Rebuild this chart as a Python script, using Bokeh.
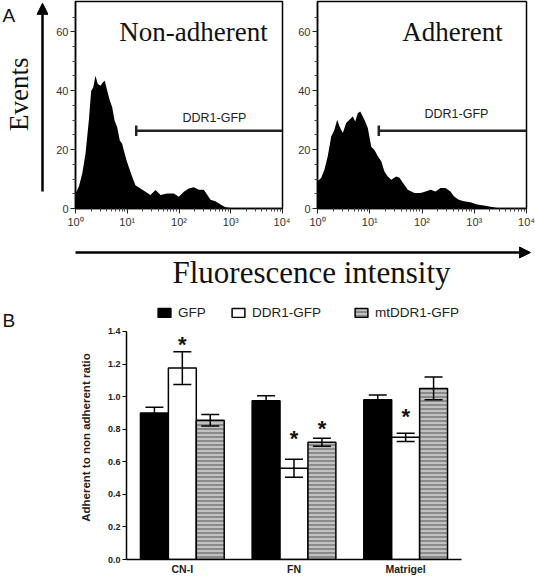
import math
from bokeh.plotting import figure
from bokeh.layouts import column, row
from bokeh.models import (ColumnDataSource, FixedTicker, FactorRange, Range1d, Arrow, NormalHead,
                          Whisker, TeeHead, Legend, LegendItem, NumeralTickFormatter, Label)
from bokeh.transform import dodge
from bokeh.core.properties import value
from bokeh.embed import file_html
from bokeh.resources import INLINE

SERIF = "Liberation Serif"
SANS = "Liberation Sans"

# ---------------- Panel A data (flow cytometry histograms) ----------------
nonadh_intensity = [1.0, 1.16, 1.35, 1.56, 1.81, 2.01, 2.20, 2.43, 2.70, 3.04, 3.37, 3.68, 4.10, 4.60,
                    5.12, 5.68, 6.40, 7.18, 7.98, 8.57, 9.68, 10.7, 12.5, 14.4, 18.0, 22.5, 28.1, 35.2,
                    44.0, 59.2, 79.4, 99.0, 124, 155, 193, 242, 301, 351, 406, 507, 634, 792, 989,
                    2000, 5000, 10000]
nonadh_events = [5.1, 7.4, 11.9, 18.6, 29.9, 40.0, 41.1, 45.1, 42.3, 41.7, 42.8, 43.4, 40.0, 36.7,
                 34.4, 29.9, 27.6, 23.1, 22.0, 19.8, 16.4, 14.1, 10.7, 7.9, 6.8, 5.7, 4.6, 6.3,
                 4.6, 5.1, 5.1, 4.0, 5.7, 6.8, 7.2, 6.4, 6.4, 4.7, 3.0, 2.5, 1.4, 0.4, 0.2,
                 0.2, 0.1, 0.2]
adh_intensity = [1.0, 1.18, 1.36, 1.57, 1.83, 2.11, 2.38, 2.64, 3.05, 3.54, 4.09, 4.74, 5.27, 5.90,
                 6.56, 7.36, 8.18, 9.18, 10.7, 12.3, 14.3, 16.6, 19.1, 22.1, 25.8, 32.1, 37.1, 43.0,
                 53.5, 71.8, 93.5, 117, 146, 181, 226, 282, 351, 406, 506, 631, 847, 1138, 1524,
                 2046, 2748, 3631, 10000]
adh_events = [9.2, 10.4, 13.2, 17.7, 24.4, 26.7, 30.1, 27.8, 25.6, 29.0, 30.1, 31.2, 29.5, 32.3,
              32.9, 31.2, 29.5, 27.3, 21.0, 19.9, 17.7, 16.0, 12.6, 10.9, 9.8, 10.9, 10.4, 8.7,
              6.4, 5.3, 5.3, 5.8, 6.4, 5.8, 7.0, 7.0, 5.8, 4.2, 3.0, 2.5, 2.1, 1.4, 1.0,
              0.6, 0.2, 0.1, 0.1]
gate_start = 14.9
gate_level = 26.4
hist_ticks = [1, 10, 100, 1000, 10000]
hist_tick_labels = ["10\u2070", "10\u00b9", "10\u00b2", "10\u00b3", "10\u2074"]
events_ticks = [0, 20, 40, 60]
events_minor = [5, 10, 15, 25, 30, 35, 45, 50, 55, 65]

# ---------------- Panel B data (bar chart) ----------------
substrates = ["CN-I", "FN", "Matrigel"]
series_names = ["GFP", "DDR1-GFP", "mtDDR1-GFP"]
gfp_mean = [0.90, 0.975, 0.98]
gfp_sem = [0.035, 0.03, 0.03]
ddr1_mean = [1.175, 0.56, 0.75]
ddr1_sem = [0.10, 0.055, 0.025]
mt_mean = [0.855, 0.72, 1.05]
mt_sem = [0.035, 0.025, 0.07]
ddr1_star_cat = ["CN-I", "FN", "Matrigel"]
ddr1_star_y = [1.33, 0.752, 0.89]
mt_star_cat = ["FN"]
mt_star_y = [0.816]
ratio_ticks = [0.0, 0.2, 0.4, 0.6, 0.8, 1.0, 1.2, 1.4]


def deco_fig(w, h):
    p = figure(width=w, height=h, x_range=Range1d(0, w), y_range=Range1d(0, h),
               x_axis_location=None, y_axis_location=None, output_backend="svg",
               toolbar_location=None, min_border=0, outline_line_color=None)
    p.grid.visible = False
    return p


def hist_fig(xs, ys, title, title_x, gate_label_x, gate_label_y, width, bl, br):
    p = figure(width=width, height=230, x_axis_type="log", x_range=Range1d(1, 10000),
               y_range=Range1d(0, 70.27), output_backend="svg", toolbar_location=None,
               min_border_left=bl, min_border_right=br, min_border_top=1, min_border_bottom=21)
    p.grid.visible = False
    p.outline_line_color = "black"
    p.outline_line_width = 1.5
    p.varea(x=xs, y1=[0] * len(xs), y2=ys, fill_color="black")
    # gate marker
    p.segment(x0=[gate_start], y0=[gate_level], x1=[10000], y1=[gate_level],
              line_color="#222222", line_width=2.5)
    p.segment(x0=[gate_start], y0=[gate_level - 1.8], x1=[gate_start], y1=[gate_level + 1.8],
              line_color="#222222", line_width=2.5)
    p.add_layout(Label(x=gate_label_x, y=gate_label_y, text="DDR1-GFP", text_align="center",
                       text_baseline="alphabetic", text_font=SANS, text_font_size="12.5px",
                       text_color="#222222"))
    p.add_layout(Label(x=title_x, y=60.0, text=title, text_align="center",
                       text_baseline="alphabetic", text_font=SERIF, text_font_size="27px",
                       text_color="#111111"))
    p.xaxis.ticker = FixedTicker(ticks=hist_ticks,
                                 minor_ticks=[m * 10 ** k for k in range(4) for m in range(2, 10)])
    p.xaxis.major_label_overrides = {t: lab for t, lab in zip(hist_ticks, hist_tick_labels)}
    p.yaxis.ticker = FixedTicker(ticks=events_ticks, minor_ticks=events_minor)
    for ax in (p.xaxis, p.yaxis):
        ax.axis_line_width = 1.5
        ax.axis_line_color = "black"
        ax.major_tick_out = 5
        ax.major_tick_in = 0
        ax.minor_tick_out = 3
        ax.minor_tick_in = 0
        ax.major_tick_line_color = "#222222"
        ax.minor_tick_line_color = "#444444"
        ax.major_label_text_font = SANS
        ax.major_label_text_font_size = "11px"
        ax.major_label_text_color = "#333333"
        ax.major_label_standoff = 2
    return p


# ---- top row (y 0..230) ----
decoA = deco_fig(48, 230)
decoA.add_layout(Label(x=2, y=215, text="A", text_font=SANS, text_font_size="19px",
                       text_baseline="alphabetic", text_color="#111111"))
decoA.add_layout(Label(x=18, y=127, text="Events", angle=math.pi / 2, text_align="center",
                       text_baseline="middle", text_font=SERIF, text_font_size="27px",
                       text_color="#111111"))
decoA.add_layout(Arrow(end=NormalHead(size=11, fill_color="black", line_color="black"),
                       x_start=42, y_start=19, x_end=42, y_end=228, line_width=2.5,
                       line_color="black"))

h1 = hist_fig(nonadh_intensity, nonadh_events, "Non-adherent", 191, 485, 30.85, 242, 27, 8)
h2 = hist_fig(adh_intensity, adh_events, "Adherent", 384, 457, 31.95, 245, 27, 9)

# ---- middle strip (y 230..300) ----
decoF = deco_fig(535, 70)
decoF.add_layout(Arrow(end=NormalHead(size=11, fill_color="black", line_color="black"),
                       x_start=75, y_start=48, x_end=530, y_end=48, line_width=2.5,
                       line_color="black"))
decoF.add_layout(Label(x=311, y=28, text="Fluorescence intensity", text_align="center",
                       text_baseline="alphabetic", text_font=SERIF, text_font_size="31px",
                       text_color="#111111"))

# ---- bottom row (y 300..577) ----
decoB = deco_fig(100, 277)
decoB.add_layout(Label(x=2, y=259, text="B", text_font=SANS, text_font_size="19px",
                       text_baseline="alphabetic", text_color="#111111"))
decoB.add_layout(Label(x=85, y=132, text="Adherent to non adherent ratio", angle=math.pi / 2,
                       text_align="center", text_baseline="middle", text_font=SANS,
                       text_font_style="bold", text_font_size="11.5px", text_color="#222222"))

pb = figure(width=435, height=277, x_range=FactorRange(*substrates, range_padding=0),
            y_range=Range1d(0, 1.5715), output_backend="svg", toolbar_location=None,
            min_border_left=26, min_border_right=74, min_border_top=3, min_border_bottom=18,
            outline_line_color=None)
pb.grid.visible = False

src = ColumnDataSource(dict(
    cat=substrates,
    gfp=gfp_mean, gfp_lo=[m - e for m, e in zip(gfp_mean, gfp_sem)],
    gfp_hi=[m + e for m, e in zip(gfp_mean, gfp_sem)],
    ddr1=ddr1_mean, ddr1_lo=[m - e for m, e in zip(ddr1_mean, ddr1_sem)],
    ddr1_hi=[m + e for m, e in zip(ddr1_mean, ddr1_sem)],
    mt=mt_mean, mt_lo=[m - e for m, e in zip(mt_mean, mt_sem)],
    mt_hi=[m + e for m, e in zip(mt_mean, mt_sem)],
))

offsets = [-0.25, 0.0, 0.25]
bar_w = 0.25
r_gfp = pb.vbar(x=dodge("cat", offsets[0], range=pb.x_range), top="gfp", width=bar_w, source=src,
                fill_color="black", line_color="black", line_width=1.5)
r_ddr1 = pb.vbar(x=dodge("cat", offsets[1], range=pb.x_range), top="ddr1", width=bar_w, source=src,
                 fill_color="white", line_color="black", line_width=1.5)
r_mt = pb.vbar(x=dodge("cat", offsets[2], range=pb.x_range), top="mt", width=bar_w, source=src,
               fill_color="#8a8a8a", line_color="black", line_width=1.5,
               hatch_pattern="horizontal_line", hatch_color="#dedede", hatch_scale=4,
               hatch_weight=1.3)

for off, key in zip(offsets, ["gfp", "ddr1", "mt"]):
    w = Whisker(base=dodge("cat", off, range=pb.x_range), upper=key + "_hi", lower=key + "_lo",
                source=src, line_color="black", line_width=1.5, level="annotation",
                upper_head=TeeHead(size=18, line_width=1.5, line_color="black"),
                lower_head=TeeHead(size=18, line_width=1.5, line_color="black"))
    pb.add_layout(w)

s1 = ColumnDataSource(dict(cat=ddr1_star_cat, y=ddr1_star_y))
s2 = ColumnDataSource(dict(cat=mt_star_cat, y=mt_star_y))
for s, off in ((s1, offsets[1]), (s2, offsets[2])):
    pb.text(x=dodge("cat", off, range=pb.x_range), y="y", source=s, text=value("*"),
            text_font=value(SANS), text_font_style="bold", text_font_size=value("22px"),
            text_align="center", text_baseline="alphabetic", y_offset=2, text_color="#111111")

legend_x = [30, 104, 227]
for name, rend, lx in zip(series_names, [r_gfp, r_ddr1, r_mt], legend_x):
    lg = Legend(items=[LegendItem(label=name, renderers=[rend])],
                location=(lx, 239), padding=0, margin=0,
                glyph_width=16, glyph_height=11, label_height=11, label_standoff=6,
                label_text_font=SANS, label_text_font_size="13.5px", label_text_color="#222222",
                border_line_color=None, background_fill_alpha=0)
    pb.add_layout(lg)

pb.yaxis.bounds = (0, 1.4)
pb.yaxis.ticker = FixedTicker(ticks=ratio_ticks)
pb.yaxis.formatter = NumeralTickFormatter(format="0.0")
pb.yaxis.major_tick_out = 4
pb.yaxis.major_tick_in = 0
pb.yaxis.minor_tick_line_color = None
pb.xaxis.major_tick_line_color = None
pb.xaxis.major_tick_out = 0
pb.xaxis.major_label_standoff = 3
for ax in (pb.xaxis, pb.yaxis):
    ax.axis_line_width = 1.5
    ax.axis_line_color = "black"
    ax.major_label_text_font = SANS
    ax.major_label_text_font_style = "bold"
    ax.major_label_text_color = "#222222"
pb.yaxis.major_label_text_font_size = "9px"
pb.yaxis.major_label_standoff = 2
pb.xaxis.major_label_text_font_size = "10.5px"

layout = column(row(decoA, h1, h2), decoF, row(decoB, pb))
open("out.html", "w").write(file_html(layout, INLINE))
